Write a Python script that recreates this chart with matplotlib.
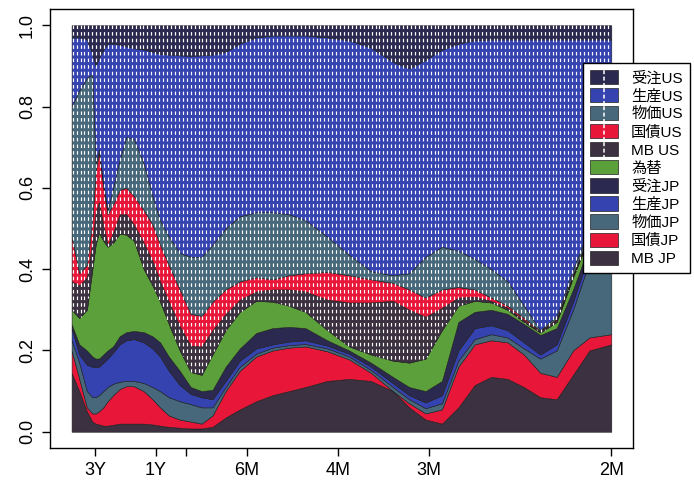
import numpy as np
import matplotlib
matplotlib.use('Agg')
import matplotlib.pyplot as plt
from matplotlib.collections import LineCollection
from matplotlib.legend_handler import HandlerBase
from matplotlib.patches import Patch, Rectangle
from matplotlib.lines import Line2D

plt.rcParams['font.family'] = ['Liberation Sans', 'Noto Sans CJK JP']

# frequency (cycles per month)
freq = [0.006, 0.013, 0.02, 0.025, 0.028, 0.031, 0.035, 0.039, 0.044, 0.05,
        0.056, 0.063, 0.072, 0.08, 0.087, 0.095, 0.105, 0.115, 0.125, 0.135,
        0.147, 0.16, 0.175, 0.19, 0.205, 0.22, 0.24, 0.26, 0.28, 0.3,
        0.315, 0.33, 0.345, 0.36, 0.375, 0.39, 0.405, 0.42, 0.435, 0.45,
        0.465, 0.48, 0.5]

# cumulative share, from the bottom layer upward (top layer ends at 1.0)
cum_mb_jp = [0.145, 0.10, 0.05, 0.025, 0.02, 0.018, 0.015, 0.015, 0.017, 0.02,
             0.02, 0.02, 0.02, 0.018, 0.015, 0.012, 0.01, 0.008, 0.008, 0.012,
             0.035, 0.055, 0.075, 0.09, 0.10, 0.11, 0.125, 0.13, 0.125, 0.10,
             0.06, 0.03, 0.02, 0.06, 0.115, 0.135, 0.13, 0.11, 0.085, 0.08,
             0.14, 0.2, 0.215]
cum_kokusai_jp = [0.2, 0.13, 0.06, 0.045, 0.045, 0.05, 0.06, 0.075, 0.09, 0.105,
                  0.112, 0.112, 0.1, 0.08, 0.06, 0.04, 0.03, 0.025, 0.02, 0.04,
                  0.10, 0.15, 0.185, 0.2, 0.207, 0.21, 0.198, 0.178, 0.145, 0.10,
                  0.07, 0.045, 0.055, 0.16, 0.215, 0.225, 0.22, 0.19, 0.145, 0.135,
                  0.2, 0.232, 0.24]
cum_bukka_jp = [0.225, 0.17, 0.10, 0.085, 0.085, 0.09, 0.1, 0.11, 0.118, 0.123,
                0.125, 0.125, 0.12, 0.11, 0.1, 0.085, 0.075, 0.068, 0.06, 0.06,
                0.11, 0.16, 0.192, 0.207, 0.213, 0.216, 0.205, 0.185, 0.152, 0.11,
                0.08, 0.058, 0.07, 0.175, 0.228, 0.24, 0.232, 0.205, 0.18, 0.2,
                0.3, 0.42, 0.52]
cum_seisan_jp = [0.255, 0.19, 0.165, 0.16, 0.16, 0.16, 0.17, 0.18, 0.195, 0.215,
                 0.225, 0.228, 0.22, 0.205, 0.185, 0.15, 0.115, 0.093, 0.085, 0.08,
                 0.125, 0.175, 0.205, 0.215, 0.222, 0.225, 0.212, 0.192, 0.16, 0.12,
                 0.09, 0.072, 0.09, 0.2, 0.255, 0.262, 0.25, 0.22, 0.19, 0.215,
                 0.32, 0.44, 0.54]
cum_juchu_jp = [0.265, 0.215, 0.2, 0.185, 0.18, 0.18, 0.19, 0.2, 0.21, 0.235,
                0.245, 0.248, 0.245, 0.235, 0.22, 0.185, 0.15, 0.11, 0.10, 0.103,
                0.16, 0.205, 0.243, 0.255, 0.258, 0.255, 0.225, 0.2, 0.17, 0.135,
                0.11, 0.10, 0.125, 0.27, 0.295, 0.30, 0.29, 0.265, 0.238, 0.255,
                0.35, 0.46, 0.56]
cum_kawase = [0.30, 0.28, 0.30, 0.40, 0.46, 0.49, 0.47, 0.455, 0.465, 0.487,
              0.485, 0.47, 0.40, 0.36, 0.32, 0.265, 0.2, 0.147, 0.14, 0.19,
              0.25, 0.295, 0.322, 0.32, 0.31, 0.295, 0.25, 0.21, 0.19, 0.175,
              0.17, 0.18, 0.25, 0.31, 0.322, 0.318, 0.30, 0.27, 0.244, 0.27,
              0.38, 0.48, 0.58]
cum_mb_us = [0.37, 0.36, 0.38, 0.47, 0.54, 0.565, 0.51, 0.46, 0.49, 0.535,
             0.535, 0.51, 0.465, 0.42, 0.37, 0.32, 0.26, 0.212, 0.21, 0.25,
             0.29, 0.325, 0.345, 0.35, 0.35, 0.345, 0.325, 0.318, 0.318, 0.322,
             0.30, 0.283, 0.305, 0.33, 0.332, 0.322, 0.305, 0.275, 0.246, 0.275,
             0.384, 0.484, 0.585]
cum_kokusai_us = [0.48, 0.39, 0.41, 0.52, 0.64, 0.688, 0.60, 0.535, 0.56, 0.595,
                  0.60, 0.58, 0.545, 0.51, 0.46, 0.41, 0.35, 0.29, 0.285, 0.32,
                  0.35, 0.37, 0.38, 0.375, 0.385, 0.39, 0.393, 0.385, 0.375, 0.366,
                  0.35, 0.33, 0.35, 0.356, 0.35, 0.33, 0.31, 0.28, 0.248, 0.278,
                  0.388, 0.488, 0.59]
cum_bukka_us = [0.80, 0.84, 0.87, 0.88, 0.66, 0.695, 0.61, 0.545, 0.60, 0.67,
                0.725, 0.72, 0.66, 0.58, 0.52, 0.48, 0.44, 0.43, 0.43, 0.46,
                0.50, 0.53, 0.54, 0.54, 0.535, 0.52, 0.48, 0.435, 0.395, 0.385,
                0.39, 0.43, 0.455, 0.445, 0.425, 0.40, 0.37, 0.31, 0.25, 0.285,
                0.40, 0.50, 0.61]
cum_seisan_us = [0.97, 0.97, 0.965, 0.93, 0.90, 0.92, 0.94, 0.955, 0.955, 0.952,
                 0.948, 0.944, 0.94, 0.935, 0.93, 0.928, 0.926, 0.925, 0.926, 0.928,
                 0.935, 0.955, 0.97, 0.975, 0.975, 0.975, 0.97, 0.963, 0.945, 0.91,
                 0.894, 0.915, 0.94, 0.955, 0.963, 0.965, 0.965, 0.965, 0.965, 0.965,
                 0.965, 0.965, 0.965]

labels = ['MB JP', '国債JP', '物価JP', '生産JP', '受注JP', '為替',
          'MB US', '国債US', '物価US', '生産US', '受注US']

c_mb = '#3b3140'
c_kok = '#e8173a'
c_buk = '#46687a'
c_sei = '#3543b0'
c_ju = '#2c2950'
c_fx = '#5ca03c'
colors = [c_mb, c_kok, c_buk, c_sei, c_ju, c_fx,
          c_mb, c_kok, c_buk, c_sei, c_ju]

freq = np.array(freq)
cum = np.vstack([np.zeros_like(freq), cum_mb_jp, cum_kokusai_jp, cum_bukka_jp,
                 cum_seisan_jp, cum_juchu_jp, cum_kawase, cum_mb_us,
                 cum_kokusai_us, cum_bukka_us, cum_seisan_us, np.ones_like(freq)])
shares = np.diff(cum, axis=0)

fig = plt.figure(figsize=(6.94, 4.90), dpi=100)
ax = fig.add_axes([0.072, 0.0857, 0.84, 0.896])

ax.stackplot(freq, shares, colors=colors, edgecolor='#1a1a1a', linewidth=0.4)

# white dashed vertical lines over the US layers
xs = np.arange(freq[0] + 0.001, freq[-1], 0.0036)
ylow = np.interp(xs, freq, cum_kawase)
segs = [[(x, 1.0), (x, y)] for x, y in zip(xs, ylow)]
ax.add_collection(LineCollection(segs, colors='white', linewidths=0.85,
                                 linestyles=[(0, (3.0, 2.6))]))

ax.set_xlim(-0.0138, 0.5198)
ax.set_ylim(-0.04, 1.04)

ax.set_xticks([1/36, 1/12, 1/9, 1/6, 1/4, 1/3, 1/2])
ax.set_xticklabels(['3Y', '1Y', '', '6M', '4M', '3M', '2M'])
ax.set_yticks([0, 0.2, 0.4, 0.6, 0.8, 1.0])
ax.set_yticklabels(['0.0', '0.2', '0.4', '0.6', '0.8', '1.0'], rotation=90, va='center')
ax.tick_params(labelsize=13, length=6, width=1, pad=4)
for s in ax.spines.values():
    s.set_linewidth(1)


class DashHandler(HandlerBase):
    def create_artists(self, legend, orig_handle, xdescent, ydescent,
                       width, height, fontsize, trans):
        r = Rectangle((-xdescent, -ydescent), width, height,
                      facecolor=orig_handle.get_facecolor(), edgecolor='#222222',
                      lw=0.5, transform=trans)
        arts = [r]
        if orig_handle.get_hatch():
            xm = -xdescent + width / 2
            arts.append(Line2D([xm, xm], [-ydescent - 2, -ydescent + height + 2],
                               color='white', lw=1.1, ls=(0, (2.6, 1.6)),
                               transform=trans))
        return arts


handles = []
for lab, col in zip(labels[::-1], colors[::-1]):
    handles.append(Patch(facecolor=col, label=lab,
                         hatch='|' if 'US' in lab else None))

fig.legend(handles=handles, loc='upper left', bbox_to_anchor=(0.84, 0.871),
           fontsize=11, frameon=True, fancybox=False, edgecolor='black',
           framealpha=1, handlelength=1.85, handleheight=1.05, labelspacing=0.18,
           handletextpad=0.85, borderpad=0.45, borderaxespad=0,
           handler_map={Patch: DashHandler()})

fig.savefig('out.png', dpi=100)
